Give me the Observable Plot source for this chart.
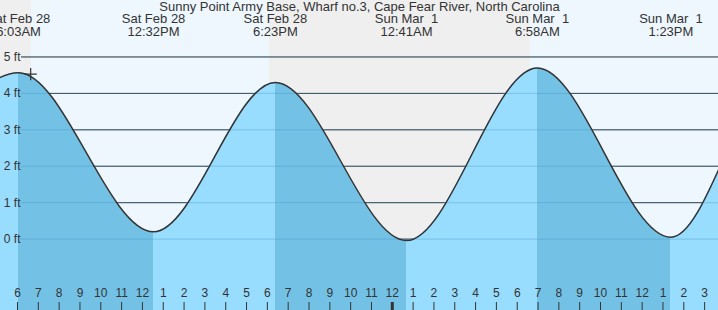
<!DOCTYPE html>
<html><head><meta charset="utf-8">
<script src="https://cdn.jsdelivr.net/npm/d3@7"></script>
<script src="https://cdn.jsdelivr.net/npm/@observablehq/plot@0.6"></script>
<style>
html,body{margin:0;padding:0;background:#fff;}
svg text{white-space:pre;}
</style></head><body><div id="chart"></div>
<script>
const title = "Sunny Point Army Base, Wharf no.3, Cape Fear River, North Carolina";
// tide extremes (local time). First and last two lie outside the visible window.
const tideTimes = ["2026-02-27T23:50","2026-02-28T06:03","2026-02-28T12:32","2026-02-28T18:23","2026-03-01T00:41","2026-03-01T06:58","2026-03-01T13:23","2026-03-01T18:30","2026-03-02T00:45"];
const tideFeet  = [0.15, 4.57, 0.2, 4.3, -0.04, 4.7, 0.05, 4.45, 0.1];
// labelled extremes
const labelTimes = ["2026-02-28T06:03","2026-02-28T12:32","2026-02-28T18:23","2026-03-01T00:41","2026-03-01T06:58","2026-03-01T13:23"];
const labelDays  = ["Sat Feb 28","Sat Feb 28","Sat Feb 28","Sun Mar  1","Sun Mar  1","Sun Mar  1"];
const labelClock = ["6:03AM","12:32PM","6:23PM","12:41AM","6:58AM","1:23PM"];
// day / night shading
const bandStarts = ["2026-02-28T04:00","2026-02-28T06:40","2026-02-28T18:06","2026-03-01T06:38"];
const bandEnds   = ["2026-02-28T06:40","2026-02-28T18:06","2026-03-01T06:38","2026-03-01T17:00"];
const bandKinds  = ["night","day","night","day"];
// current-time marker
const markerTime = "2026-02-28T06:38";
const markerFeet = 4.53;
// axes
const yTicks = [0, 1, 2, 3, 4, 5];
const xStart = "2026-02-28T05:11", xEnd = "2026-03-01T15:40";
const hourFirst = "2026-02-28T06:00", hourLast = "2026-03-01T15:00";

const D = s => new Date(s + ":00Z");
const yMin = -1.96, yMax = 6.55;
const tide = tideTimes.map((t, i) => ({date: D(t), ft: tideFeet[i]}));
const labels = labelTimes.map((t, i) => ({date: D(t), text: labelDays[i] + "\n" + labelClock[i]}));
const bands = bandStarts.map((t, i) => ({start: D(t), end: D(bandEnds[i]), kind: bandKinds[i]}));
const hours = d3.utcHour.range(D(hourFirst), new Date(+D(hourLast) + 1));
const fmtHour = d3.utcFormat("%-I");

const LIGHT = "#98dcfe", DARK = "#73c2e6", DAYBG = "#eef7fe", NIGHTBG = "#efefef", INK = "#333";

const chart = Plot.plot({
  width: 718, height: 310,
  marginTop: 0, marginRight: 0, marginBottom: 0, marginLeft: 0,
  style: {fontFamily: "'Liberation Sans', Arial, sans-serif", fontSize: "13px", color: INK, background: "#fff"},
  x: {type: "utc", domain: [D(xStart), D(xEnd)], axis: null},
  y: {domain: [yMin, yMax], axis: null},
  marks: [
    Plot.rect(bands.filter(d => d.kind === "night"), {x1: "start", x2: "end", y1: yMin, y2: yMax, fill: NIGHTBG, clip: true}),
    Plot.rect(bands.filter(d => d.kind === "day"), {x1: "start", x2: "end", y1: yMin, y2: yMax, fill: DAYBG, clip: true}),
    Plot.ruleY(yTicks, {y: d => d, stroke: INK, strokeWidth: 1, insetLeft: 21}),
    Plot.areaY(tide, {x: "date", y1: yMin, y2: "ft", curve: "monotone-x", fill: "url(#tideFill)", clip: true}),
    Plot.ruleY(yTicks, {y: d => d, stroke: "#3d8fbf", strokeOpacity: 0.35, strokeWidth: 1, insetLeft: 21}),
    Plot.line(tide, {x: "date", y: "ft", curve: "monotone-x", stroke: INK, strokeWidth: 1.5, clip: true}),
    Plot.dot([{date: D(markerTime), ft: markerFeet}], {x: "date", y: "ft", symbol: "plus", r: 4, stroke: INK, strokeWidth: 1.2}),
    Plot.text(yTicks, {y: d => d, text: d => `${d} ft`, frameAnchor: "left", textAnchor: "end", dx: 20, fontSize: 12, fill: INK}),
    Plot.ruleX(hours, {x: d => d, insetTop: 302, stroke: INK, strokeWidth: d => d.getUTCHours() === 0 ? 3 : 1}),
    Plot.text(hours, {x: d => d, text: d => fmtHour(d), frameAnchor: "bottom", dy: -14, fontSize: 12, fill: INK}),
    Plot.text([title], {text: d => d, frameAnchor: "top", dy: 1, fontSize: 13, fill: INK}),
    Plot.text(labels, {x: "date", text: "text", frameAnchor: "top", dy: 14, lineHeight: 0.95, fontSize: 13, fill: INK})
  ]
});

// gradient: dark while the tide falls, light while it rises (stops placed via the x scale)
const xs = chart.scale("x");
const W = 718;
const ns = "http://www.w3.org/2000/svg";
const defs = document.createElementNS(ns, "defs");
const grad = document.createElementNS(ns, "linearGradient");
grad.setAttribute("id", "tideFill");
grad.setAttribute("gradientUnits", "userSpaceOnUse");
grad.setAttribute("x1", 0); grad.setAttribute("x2", W);
grad.setAttribute("y1", 0); grad.setAttribute("y2", 0);
const clamp = v => Math.max(0, Math.min(1, v));
for (let i = 0; i + 1 < tide.length; i++) {
  const c = tide[i + 1].ft < tide[i].ft ? DARK : LIGHT;
  for (const p of [tide[i].date, tide[i + 1].date]) {
    const s = document.createElementNS(ns, "stop");
    s.setAttribute("offset", clamp(xs.apply(p) / W));
    s.setAttribute("stop-color", c);
    grad.appendChild(s);
  }
}
defs.appendChild(grad);
chart.insertBefore(defs, chart.firstChild);
document.getElementById("chart").appendChild(chart);
</script></body></html>
